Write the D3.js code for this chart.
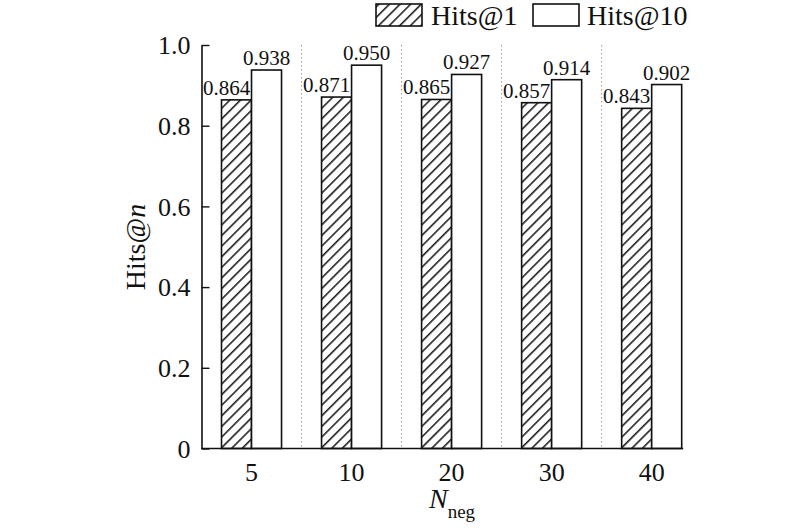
<!DOCTYPE html>
<html>
<head>
<meta charset="utf-8">
<script src="https://cdn.jsdelivr.net/npm/d3@7"></script>
<style>
  html, body { margin: 0; padding: 0; background: #fff; }
  svg, svg text { font-family: "Times New Roman", Times, "Liberation Serif", Tinos, serif !important; }
</style>
</head>
<body>
<svg id="chart" width="800" height="528"></svg>
<script>
const categories = ["5", "10", "20", "30", "40"];
const seriesNames = ["Hits@1", "Hits@10"];
const hits1 = [0.864, 0.871, 0.865, 0.857, 0.843];
const hits10 = [0.938, 0.950, 0.927, 0.914, 0.902];
const yTicks = [0, 0.2, 0.4, 0.6, 0.8, 1.0];
const yTickLabels = ["0", "0.2", "0.4", "0.6", "0.8", "1.0"];

const svg = d3.select("#chart");
const plotLeft = 201.5, plotRight = 701.7, plotTop = 45, plotBottom = 448.5;

const defs = svg.append("defs");
const pat = defs.append("pattern")
  .attr("id", "hatch")
  .attr("patternUnits", "userSpaceOnUse")
  .attr("width", 7.5).attr("height", 7.5)
  .attr("patternTransform", "rotate(45)");
pat.append("rect").attr("width", 7.5).attr("height", 7.5).attr("fill", "#fff");
pat.append("line").attr("x1", 0.8).attr("y1", 0).attr("x2", 0.8).attr("y2", 7.5)
  .attr("stroke", "#111").attr("stroke-width", 1.5);

const x0 = d3.scaleBand().domain(categories).range([plotLeft, plotRight]).padding(0);
const x1 = d3.scaleBand().domain(seriesNames)
  .range([x0.bandwidth() * 0.2, x0.bandwidth() * 0.8]).padding(0);
const y = d3.scaleLinear().domain([0, 1]).range([plotBottom, plotTop]);

// separators
svg.append("g").selectAll("line")
  .data(categories.slice(0, -1))
  .join("line")
  .attr("x1", d => x0(d) + x0.bandwidth())
  .attr("x2", d => x0(d) + x0.bandwidth())
  .attr("y1", plotTop).attr("y2", plotBottom)
  .attr("stroke", "#9a9a9a").attr("stroke-width", 1)
  .attr("stroke-dasharray", "1.5,2.5");

const rows = categories.map((c, i) => ({ cat: c, vals: [
  { s: "Hits@1", v: hits1[i] }, { s: "Hits@10", v: hits10[i] }] }));

const groups = svg.append("g").selectAll("g")
  .data(rows).join("g")
  .attr("transform", d => `translate(${x0(d.cat)},0)`);

groups.selectAll("rect")
  .data(d => d.vals).join("rect")
  .attr("x", d => x1(d.s))
  .attr("width", x1.bandwidth())
  .attr("y", d => y(d.v))
  .attr("height", d => y(0) - y(d.v))
  .attr("fill", d => d.s === "Hits@1" ? "url(#hatch)" : "#fff")
  .attr("stroke", "#111").attr("stroke-width", 1.6);

groups.selectAll("text")
  .data(d => d.vals).join("text")
  .attr("x", d => x1(d.s) + x1.bandwidth() / 2 + (d.s === "Hits@1" ? -10 : 0))
  .attr("y", d => y(d.v) - 5)
  .attr("text-anchor", "middle")
  .attr("font-size", 21)
  .attr("fill", "#111")
  .text(d => d.v.toFixed(3));

// y axis
const yAxis = d3.axisLeft(y).tickValues(yTicks)
  .tickFormat((d, i) => yTickLabels[i]).tickSizeInner(-8).tickSizeOuter(0).tickPadding(11);
const gy = svg.append("g").attr("transform", `translate(${plotLeft},0)`).call(yAxis);
gy.attr("font-family", null);
gy.select(".domain").attr("stroke", "#111").attr("stroke-width", 1.6);
gy.selectAll(".tick line").attr("stroke", "#111").attr("stroke-width", 1.4);
gy.selectAll(".tick text").attr("font-size", 26).attr("fill", "#111").attr("dy", "0.34em");

// x axis
const xAxis = d3.axisBottom(x0).tickSize(0).tickPadding(14);
const gx = svg.append("g").attr("transform", `translate(0,${plotBottom})`).call(xAxis);
gx.attr("font-family", null);
gx.select(".domain").remove();
gx.append("line").attr("x1", plotLeft).attr("x2", x0(categories[categories.length-1]) + x1.range()[1] + 1.5)
  .attr("y1", 0).attr("y2", 0).attr("stroke", "#111").attr("stroke-width", 1.6);
gx.selectAll(".tick text").attr("font-size", 26).attr("fill", "#111");

// axis titles
svg.append("text")
  .attr("transform", "translate(145,247) rotate(-90)")
  .attr("text-anchor", "middle").attr("font-size", 28).attr("fill", "#111")
  .html('Hits@<tspan font-style="italic">n</tspan>');

const xt = svg.append("text").attr("x", 452).attr("y", 508)
  .attr("text-anchor", "middle").attr("fill", "#111");
xt.append("tspan").attr("font-size", 28).attr("font-style", "italic").text("N");
xt.append("tspan").attr("font-size", 19).attr("dy", 10).text("neg");

// legend
const legend = [
  { name: seriesNames[0], fill: "url(#hatch)", bx: 376, tx: 431 },
  { name: seriesNames[1], fill: "#fff", bx: 533, tx: 587 }
];
const lg = svg.append("g").selectAll("g").data(legend).join("g");
lg.append("rect").attr("x", d => d.bx).attr("y", 4).attr("width", 46).attr("height", 22)
  .attr("fill", d => d.fill).attr("stroke", "#111").attr("stroke-width", 1.6);
lg.append("text").attr("x", d => d.tx).attr("y", 25).attr("font-size", 28).attr("fill", "#111")
  .text(d => d.name);
</script>
</body>
</html>
